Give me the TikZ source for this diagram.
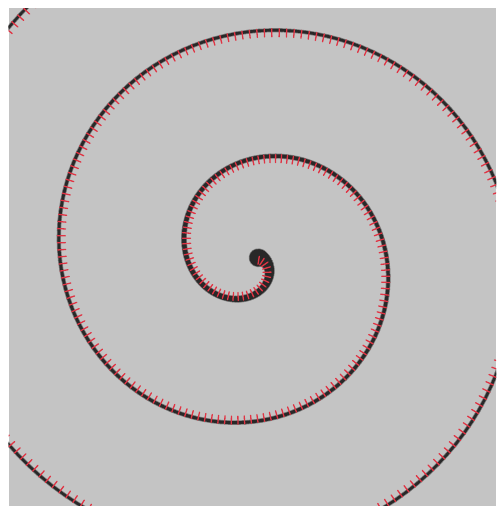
\documentclass[tikz,border=0pt]{standalone}
\definecolor{bg}{RGB}{196,196,196}
\definecolor{tickred}{RGB}{224,52,68}
\definecolor{ink}{RGB}{40,40,40}
\definecolor{halo}{RGB}{120,120,120}
\tikzset{tickmark/.style={draw=tickred, line width=1.3pt, line cap=round}}
\begin{document}
\begin{tikzpicture}[x=1pt,y=-1pt]
\useasboundingbox (0,0) rectangle (496,506);
\fill[white] (0,0) rectangle (496,506);
\fill[bg] (8.5,8) rectangle (496,506);
\clip (8.5,8) rectangle (496,506);
\def\cx{255}\def\cy{258}\def\bb{20.2}\def\bz{-13.6}
% halo of the spiral
\foreach \i in {0,...,372}{
  \pgfmathsetmacro\ta{0.15+\i*0.05}
  \pgfmathsetmacro\tb{\ta+0.05}
  \pgfmathsetmacro\ra{\bb*\ta}
  \pgfmathsetmacro\rb{\bb*\tb}
  \pgfmathsetmacro\aa{\bz+deg(\ta)}
  \pgfmathsetmacro\ab{\bz+deg(\tb)}
  \pgfmathsetmacro\w{1.8+200/(\ra+10)+1.5}
  \draw[halo, line width=\w pt, line cap=round] ({\cx+\ra*cos(\aa)},{\cy+\ra*sin(\aa)}) -- ({\cx+\rb*cos(\ab)},{\cy+\rb*sin(\ab)});
}
% core of the spiral
\foreach \i in {0,...,372}{
  \pgfmathsetmacro\ta{0.15+\i*0.05}
  \pgfmathsetmacro\tb{\ta+0.05}
  \pgfmathsetmacro\ra{\bb*\ta}
  \pgfmathsetmacro\rb{\bb*\tb}
  \pgfmathsetmacro\aa{\bz+deg(\ta)}
  \pgfmathsetmacro\ab{\bz+deg(\tb)}
  \pgfmathsetmacro\w{1.8+200/(\ra+10)}
  \draw[ink, line width=\w pt, line cap=round] ({\cx+\ra*cos(\aa)},{\cy+\ra*sin(\aa)}) -- ({\cx+\rb*cos(\ab)},{\cy+\rb*sin(\ab)});
}
% normal ticks
\xdef\tcur{0.2}
\foreach \k in {1,...,640}{
  \pgfmathsetmacro\r{\bb*\tcur}
  \pgfmathsetmacro\be{\bz+deg(\tcur)}
  \pgfmathsetmacro\den{veclen(\r,\bb)}
  \pgfmathsetmacro\nx{-(\bb*sin(\be)+\r*cos(\be))/\den}
  \pgfmathsetmacro\ny{(\bb*cos(\be)-\r*sin(\be))/\den}
  \pgfmathsetmacro\px{\cx+\r*cos(\be)}
  \pgfmathsetmacro\py{\cy+\r*sin(\be)}
  \pgfmathsetmacro\sx{\px-1.5*\nx}
  \pgfmathsetmacro\sy{\py-1.5*\ny}
  \pgfmathsetmacro\ex{\px+6.5*\nx}
  \pgfmathsetmacro\ey{\py+6.5*\ny}
  \draw[tickmark] (\sx,\sy) -- (\ex,\ey);
  \pgfmathsetmacro\tn{\tcur+(4.5+0.013*\r)/\den}
  \xdef\tcur{\tn}
}
\end{tikzpicture}
\end{document}
